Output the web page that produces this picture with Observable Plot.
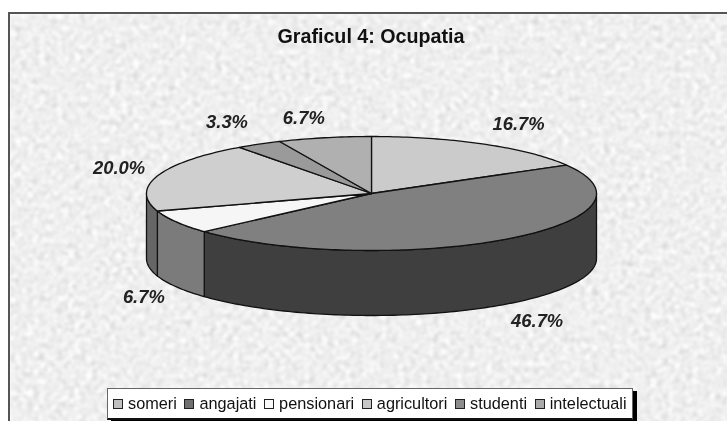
<!DOCTYPE html>
<html><head><meta charset="utf-8">
<script src="https://cdn.jsdelivr.net/npm/d3@7"></script>
<script src="https://cdn.jsdelivr.net/npm/@observablehq/plot@0.6"></script>
<style>
html,body{margin:0;padding:0;background:#fff;overflow:hidden}
#wrap{position:relative;width:727px;height:421px;overflow:hidden;font-family:"Liberation Sans",Arial,sans-serif}
#tex{position:absolute;left:8px;top:12px;width:719px;height:409px;border-left:2px solid #555;border-top:2px solid #555;box-sizing:border-box;overflow:hidden}
#chart{position:absolute;left:0;top:0;filter:blur(0.35px)}
#title{position:absolute;left:0;width:742px;top:25px;text-align:center;font-weight:700;font-size:19.7px;line-height:22px;color:#111;filter:blur(0.3px)}
#legend{position:absolute;left:107px;top:388px;width:526px;height:32px;background:#fff;border:1px solid #666;border-bottom:2px solid #111;box-sizing:border-box;box-shadow:4px 3px 0 #000;display:flex;align-items:center;font-size:16.3px;color:#111;white-space:nowrap;padding-left:5px;filter:blur(0.25px)}
#legend span.i{display:inline-flex;align-items:center;margin-right:7.6px}
#legend i{display:inline-block;width:10px;height:10px;border:1.5px solid #222;box-sizing:border-box;margin-right:5px}
</style></head><body>
<div id="wrap">
  <div id="tex"><svg width="719" height="409" xmlns="http://www.w3.org/2000/svg">
    <filter id="grain" x="0" y="0" width="100%" height="100%" color-interpolation-filters="sRGB">
      <feTurbulence type="fractalNoise" baseFrequency="0.17" numOctaves="3" seed="7"/>
      <feColorMatrix type="matrix" values="0.33 0.33 0.33 0 0  0.33 0.33 0.33 0 0  0.33 0.33 0.33 0 0  0 0 0 0 1"/>
      <feComponentTransfer><feFuncR type="linear" slope="0.36" intercept="0.76"/><feFuncG type="linear" slope="0.36" intercept="0.76"/><feFuncB type="linear" slope="0.36" intercept="0.76"/></feComponentTransfer>
      <feGaussianBlur stdDeviation="0.8"/>
    </filter>
    <rect width="719" height="409" filter="url(#grain)"/>
  </svg></div>
  <div id="chart"></div>
  <div id="title">Graficul 4: Ocupatia</div>
  <div id="legend"></div>
</div>
<script>
const categories = ["someri","angajati","pensionari","agricultori","studenti","intelectuali"];
const percents = [16.7,46.7,6.7,20.0,3.3,6.7];
const percentLabels = ["16.7%","46.7%","6.7%","20.0%","3.3%","6.7%"];
const topColors = ["#cbcbcb","#808080","#f6f6f6","#cfcfcf","#9a9a9a","#b0b0b0"];
const wallColors = ["#666666","#3f3f3f","#7b7b7b","#666666","#4d4d4d","#585858"];
const swatchColors = ["#c0c0c0","#707070","#fafafa","#c8c8c8","#8c8c8c","#aaaaaa"];
// label distance from the pie centre, in radii of the ellipse
const labelRx = [1.32,1.265,1.16,1.173,1.27,1.41];
const labelRy = [1.40,1.35,1.36,1.42,1.44,1.36];

const depth = 65/57; // wall height in units of the vertical radius
const tau = 2*Math.PI;
const arcs = d3.pie().sort(null).value(d=>d)(percents);
const sweep = (a,b)=>{const n=Math.max(2,Math.ceil((b-a)/0.02));return d3.range(n+1).map(i=>a+(b-a)*i/n)};

const topRows=[], wallRows=[], labelRows=[];
arcs.forEach((arc,i)=>{
  const name=categories[i];
  const ring=sweep(arc.startAngle,arc.endAngle).map(t=>({name,x:Math.sin(t),y:Math.cos(t)}));
  const o={name,x:0,y:0};
  [o,...ring,o].forEach(p=>topRows.push(p));
  // the part of the rim on the near side (angles from a quarter to three quarters of a turn)
  const a=Math.max(arc.startAngle,tau/4), b=Math.min(arc.endAngle,3*tau/4);
  if(b>a){
    const front=sweep(a,b);
    const upper=front.map(t=>({name,x:Math.sin(t),y:Math.cos(t)}));
    const lower=front.slice().reverse().map(t=>({name,x:Math.sin(t),y:Math.cos(t)-depth}));
    [...upper,...lower,upper[0]].forEach(p=>wallRows.push(p));
  }
  const mid=(arc.startAngle+arc.endAngle)/2;
  labelRows.push({label:percentLabels[i],
    x:Math.sin(mid)*labelRx[i],
    y:Math.cos(mid)*labelRy[i]-(Math.cos(mid)<0?depth:0)});
});
const wallOrder=["angajati","pensionari","agricultori"];
const figure=Plot.plot({
  width:727,height:421,margin:0,
  style:{background:"transparent",overflow:"visible"},
  x:{domain:[-1,1],range:[146,596],axis:null},
  y:{domain:[-1,1],range:[250,136],axis:null},
  color:{domain:categories,range:topColors},
  marks:[
    ...wallOrder.map(n=>Plot.line(wallRows.filter(d=>d.name===n),{x:"x",y:"y",fill:wallColors[categories.indexOf(n)],stroke:"#111",strokeWidth:1.3,curve:"linear"})),
    Plot.line(topRows,{x:"x",y:"y",z:"name",fill:"name",stroke:"#111",strokeWidth:1.3,curve:"linear"}),
    Plot.text(labelRows,{x:"x",y:"y",text:"label",dx:-1.5,fontFamily:"Liberation Sans",fontSize:18.4,fontWeight:700,fontStyle:"italic",fill:"#222"})
  ]
});
document.getElementById("chart").appendChild(figure);
const lg=d3.select("#legend");
categories.forEach((c,i)=>{
  const s=lg.append("span").attr("class","i");
  s.append("i").style("background",swatchColors[i]);
  s.append("span").text(c);
});
</script>
</body></html>
